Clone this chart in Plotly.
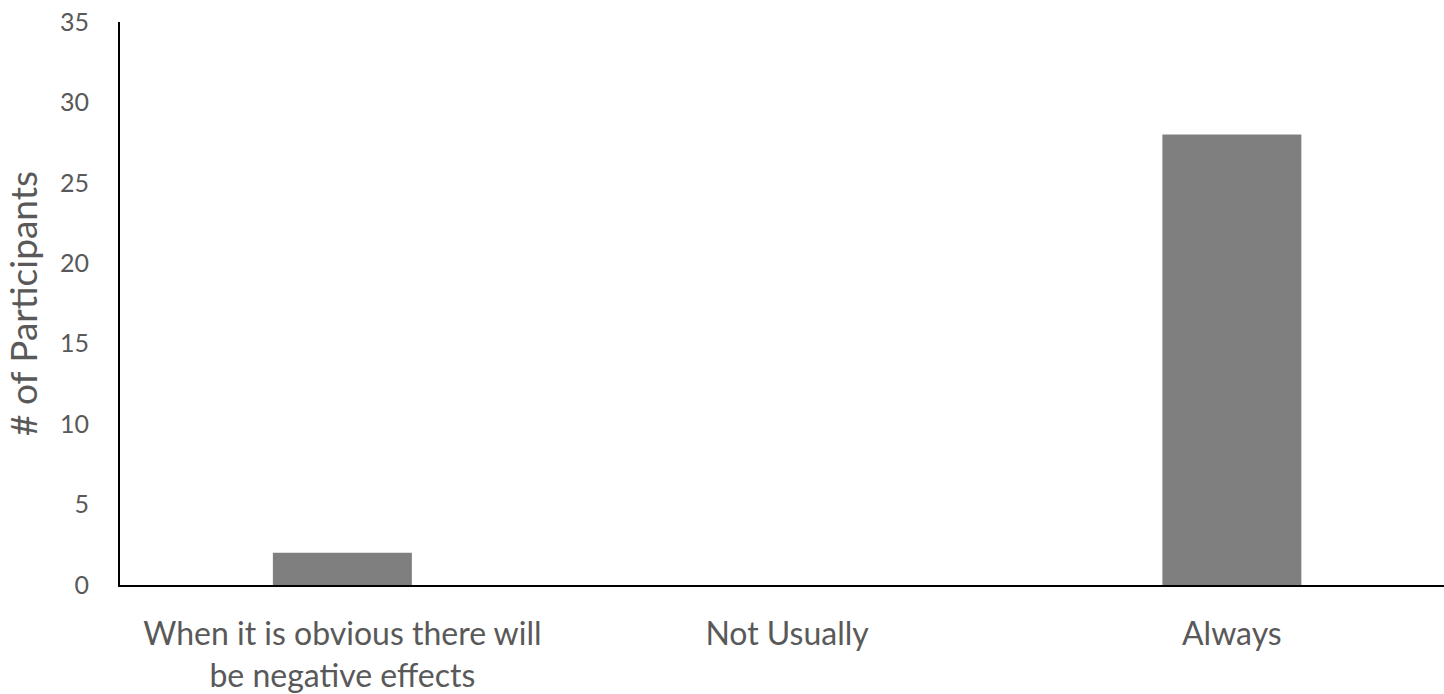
import plotly.graph_objects as go

categories = ["When it is obvious there will<br>be negative effects", "Not Usually", "Always"]
values = [2, 0, 28]
y_ticks = [0, 5, 10, 15, 20, 25, 30, 35]

FONT = "Lato"
TXT = "#595959"

fig = go.Figure(go.Bar(x=categories, y=values, marker=dict(color="#7f7f7f", line=dict(width=0))))

fig.update_layout(
    width=1444, height=694,
    margin=dict(l=120, r=0, t=22, b=109),
    paper_bgcolor="white", plot_bgcolor="white",
    bargap=0.6875,
    showlegend=False,
    font=dict(family=FONT, color=TXT),
)
fig.update_xaxes(
    range=[-0.5, 2.477],
    showline=True, linecolor="black", linewidth=2,
    showgrid=False, ticks="", automargin=False,
    tickfont=dict(family=FONT, size=32, color=TXT),
    ticklabelstandoff=20,
)
fig.update_yaxes(
    range=[0, 35],
    tickvals=y_ticks,
    showline=True, linecolor="black", linewidth=2,
    showgrid=False, zeroline=False, ticks="", automargin=False,
    tickfont=dict(family=FONT, size=25, color=TXT),
    ticklabelstandoff=24,
    title=dict(text="# of Participants", font=dict(family=FONT, size=37, color=TXT), standoff=14),
)
fig.write_html("out.html")
